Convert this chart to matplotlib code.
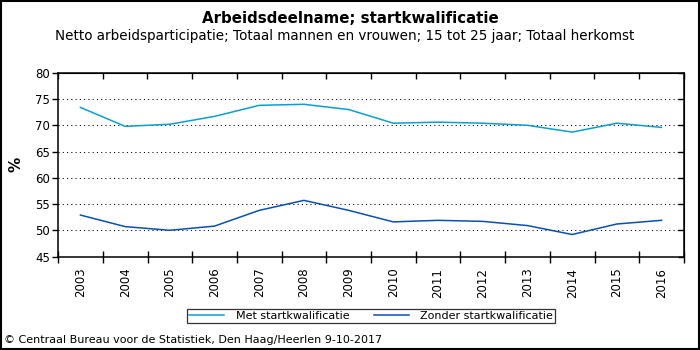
import numpy as np
from matplotlib import pyplot as plt

years = ['2003', '2004', '2005', '2006', '2007', '2008', '2009',
         '2010', '2011', '2012', '2013', '2014', '2015', '2016']
met = [73.4, 69.8, 70.2, 71.7, 73.8, 74.0, 73.0,
       70.4, 70.6, 70.4, 70.0, 68.7, 70.4, 69.6]
zonder = [52.9, 50.7, 50.0, 50.8, 53.8, 55.7, 53.8,
          51.6, 51.9, 51.7, 50.9, 49.2, 51.2, 51.9]

plt.rcParams['font.family'] = ['DejaVu Sans']

fig = plt.figure(figsize=(7, 3.5), dpi=100)
ax = fig.add_axes([0.083, 0.267, 0.894, 0.525])

x = np.arange(len(years))
ax.plot(x, met, color='#0a9fd0', lw=1.1, label='Met startkwalificatie')
ax.plot(x, zonder, color='#0a50b4', lw=1.1, label='Zonder startkwalificatie')

ax.set_xlim(-0.5, len(years) - 0.5)
ax.set_ylim(45, 80)
ax.set_yticks(range(45, 81, 5))
ax.tick_params(axis='y', labelsize=8.5, direction='out', length=4, width=1,
               pad=2)
for yv in range(50, 80, 5):
    ax.axhline(yv, color='black', lw=0.75, ls=(0, (1, 3.1)), zorder=0)

# right axis: ticks pointing inward, no labels
ry = ax.secondary_yaxis('right')
ry.set_yticks(range(45, 81, 5))
ry.tick_params(direction='in', length=4, width=1, labelright=False)

ax.set_xticks(x)
ax.set_xticklabels(years, rotation=90, fontsize=8.5)
ax.tick_params(axis='x', which='major', length=0, pad=8)
ax.set_xticks(np.arange(-0.5, len(years), 1), minor=True)
ax.tick_params(axis='x', which='minor', direction='inout', length=8, width=1)

tx = ax.secondary_xaxis('top')
tx.set_xticks(np.arange(-0.5, len(years), 1))
tx.tick_params(direction='in', length=4, width=1, labeltop=False)

for s in ax.spines.values():
    s.set_linewidth(1.1)

ax.set_ylabel('%', fontsize=11, fontweight='bold', labelpad=8)

fig.text(0.5, 0.948, 'Arbeidsdeelname; startkwalificatie', ha='center',
         va='center', fontsize=10.8, fontweight='bold')
fig.text(0.493, 0.897, 'Netto arbeidsparticipatie; Totaal mannen en vrouwen; '
         '15 tot 25 jaar; Totaal herkomst', ha='center', va='center',
         fontsize=9.75)

leg = fig.legend(loc='center', bbox_to_anchor=(0.530, 0.097), ncol=2,
                 fontsize=8, frameon=True, fancybox=False, handlelength=3.2,
                 columnspacing=2.2, borderpad=0.15, handletextpad=1)
leg.get_frame().set_edgecolor('black')
leg.get_frame().set_linewidth(0.9)

fig.text(0.006, 0.028, '\u00a9 Centraal Bureau voor de Statistiek, '
         'Den Haag/Heerlen 9-10-2017', fontsize=8, va='center')

border = plt.Rectangle((0.001, 0.002), 0.997, 0.995, transform=fig.transFigure,
                       fill=False, edgecolor='black', lw=1.5)
fig.patches.append(border)

fig.savefig('out.png', dpi=100)
